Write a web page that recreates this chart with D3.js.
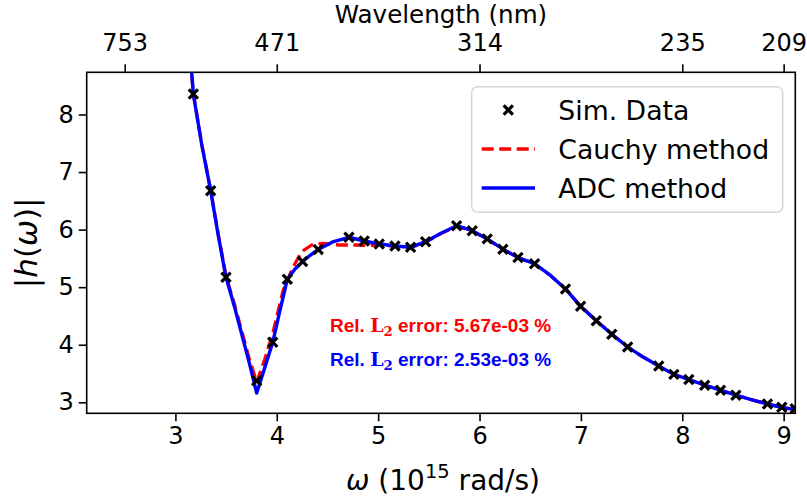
<!DOCTYPE html>
<html>
<head>
<meta charset="utf-8">
<script src="https://cdn.jsdelivr.net/npm/d3@7"></script>
<style>
body { margin: 0; background: #fff; }
svg text { font-family: "DejaVu Sans", sans-serif; }
</style>
</head>
<body>
<svg id="chart" width="807" height="499"></svg>
<script>
// simulated data (crosses)
var simOmega = [3.177, 3.348, 3.499, 3.802, 3.960, 4.104, 4.255, 4.409, 4.712, 4.863, 5.011, 5.166, 5.320, 5.468,
                5.774, 5.928, 6.076, 6.231, 6.379, 6.543, 6.848, 6.997, 7.152, 7.305, 7.461, 7.768, 7.917, 8.065,
                8.221, 8.377, 8.529, 8.840, 8.982, 9.114];
var simValue = [8.356, 6.676, 5.172, 3.375, 4.042, 5.137, 5.446, 5.655, 5.867, 5.802, 5.750, 5.715, 5.693, 5.790,
                6.068, 5.981, 5.839, 5.660, 5.514, 5.408, 4.970, 4.668, 4.418, 4.183, 3.962, 3.631, 3.485, 3.396,
                3.297, 3.210, 3.123, 2.970, 2.913, 2.889];

// ADC method fit
var adcOmega = [3.150, 3.160, 3.177, 3.260, 3.348, 3.420, 3.499, 3.580, 3.650, 3.730, 3.802, 3.880, 3.960, 4.030,
                4.104, 4.180, 4.255, 4.330, 4.409, 4.560, 4.712, 4.863, 5.011, 5.166, 5.320, 5.468, 5.620, 5.774,
                5.928, 6.076, 6.231, 6.379, 6.543, 6.700, 6.848, 6.997, 7.152, 7.305, 7.461, 7.610, 7.768, 7.917,
                8.065, 8.221, 8.377, 8.529, 8.680, 8.840, 8.982, 9.130];
var adcValue = [8.991, 8.733, 8.356, 7.474, 6.676, 5.926, 5.172, 4.677, 4.213, 3.676, 3.160, 3.594, 4.043, 4.584,
                5.137, 5.317, 5.446, 5.554, 5.655, 5.792, 5.867, 5.802, 5.750, 5.715, 5.693, 5.790, 5.936, 6.068,
                5.981, 5.839, 5.660, 5.514, 5.408, 5.204, 4.970, 4.668, 4.418, 4.183, 3.962, 3.790, 3.631, 3.485,
                3.396, 3.297, 3.210, 3.123, 3.047, 2.970, 2.913, 2.871];

// Cauchy method fit
var cauchyOmega = [3.150, 3.160, 3.177, 3.260, 3.348, 3.420, 3.499, 3.580, 3.650, 3.730, 3.802, 3.880, 3.960, 4.064,
                   4.163, 4.246, 4.344, 4.459, 4.607, 4.788, 4.919, 5.011, 5.166, 5.320, 5.468, 5.620, 5.774,
                   5.928, 6.076, 6.231, 6.379, 6.543, 6.700, 6.848, 6.997, 7.152, 7.305, 7.461, 7.610, 7.768, 7.917,
                   8.065, 8.221, 8.377, 8.529, 8.680, 8.840, 8.982, 9.130];
var cauchyValue = [8.991, 8.733, 8.356, 7.484, 6.690, 5.946, 5.193, 4.718, 4.264, 3.748, 3.346, 3.738, 4.192, 4.951,
                   5.356, 5.616, 5.733, 5.762, 5.733, 5.733, 5.721, 5.740, 5.709, 5.689, 5.781, 5.931, 6.060,
                   5.977, 5.833, 5.658, 5.513, 5.405, 5.204, 4.970, 4.668, 4.418, 4.183, 3.962, 3.790, 3.631, 3.485,
                   3.396, 3.297, 3.210, 3.123, 3.047, 2.970, 2.913, 2.871];

var bottomTicks = [3, 4, 5, 6, 7, 8, 9];
var leftTicks = [3, 4, 5, 6, 7, 8];
var topTickOmega = [2.5, 4, 6, 8, 9];
var topTickLabels = ["753", "471", "314", "235", "209"];
var legendLabels = ["Sim. Data", "Cauchy method", "ADC method"];
var errorValues = ["5.67e-03", "2.53e-03"];
var errorColors = ["#ff0000", "#0000ff"];

var svg = d3.select("#chart");
var pLeft = 86.7, pRight = 795.3, pTop = 72.3, pBottom = 413.3;

var x = d3.scaleLinear().domain([2.125, 9.115]).range([pLeft, pRight]);
var y = d3.scaleLinear().domain([2.809, 8.733]).range([pBottom, pTop]);

svg.append("clipPath").attr("id", "clip")
    .append("rect")
    .attr("x", pLeft).attr("y", pTop)
    .attr("width", pRight - pLeft).attr("height", pBottom - pTop);

var plot = svg.append("g").attr("clip-path", "url(#clip)");

var line = d3.line()
    .x(function(d){ return x(d[0]); })
    .y(function(d){ return y(d[1]); });

var cauchyPts = cauchyOmega.map(function(w, i){ return [w, cauchyValue[i]]; });
var adcPts = adcOmega.map(function(w, i){ return [w, adcValue[i]]; });

plot.append("path")
    .attr("d", line(cauchyPts))
    .attr("fill", "none")
    .attr("stroke", "#ff0000")
    .attr("stroke-width", 3.3)
    .attr("stroke-dasharray", "12,5.5");

plot.append("path")
    .attr("d", line(adcPts))
    .attr("fill", "none")
    .attr("stroke", "#0000ff")
    .attr("stroke-width", 3.4)
    .attr("stroke-linejoin", "round");

var crossPath = "M-4.6,-4.6L4.6,4.6M-4.6,4.6L4.6,-4.6";
plot.selectAll("path.sim")
    .data(simOmega)
    .enter().append("path")
    .attr("class", "sim")
    .attr("d", crossPath)
    .attr("transform", function(d, i){ return "translate(" + x(d) + "," + y(simValue[i]) + ")"; })
    .attr("stroke", "#000")
    .attr("stroke-width", 3.2);

// axes
var axisFont = 24;
var xAxis = svg.append("g")
    .attr("transform", "translate(0," + pBottom + ")")
    .call(d3.axisBottom(x).tickValues(bottomTicks).tickFormat(d3.format("d"))
          .tickSize(8).tickSizeOuter(0).tickPadding(5.5));

var yAxis = svg.append("g")
    .attr("transform", "translate(" + pLeft + ",0)")
    .call(d3.axisLeft(y).tickValues(leftTicks).tickFormat(d3.format("d"))
          .tickSize(8).tickSizeOuter(0).tickPadding(5));

var topAxis = svg.append("g")
    .attr("transform", "translate(0," + pTop + ")")
    .call(d3.axisTop(x).tickValues(topTickOmega)
          .tickFormat(function(d, i){ return topTickLabels[i]; })
          .tickSize(8).tickSizeOuter(0).tickPadding(13.6));

[xAxis, yAxis, topAxis].forEach(function(g){
    g.select(".domain").remove();
    g.selectAll(".tick line").attr("stroke", "#000").attr("stroke-width", 1.6);
    g.selectAll(".tick text")
        .attr("fill", "#000")
        .style("font-size", axisFont + "px")
        .style("font-family", "'DejaVu Sans', sans-serif");
});

svg.append("rect")
    .attr("x", pLeft).attr("y", pTop)
    .attr("width", pRight - pLeft).attr("height", pBottom - pTop)
    .attr("fill", "none")
    .attr("stroke", "#000")
    .attr("stroke-width", 1.6);

// axis labels
svg.append("text")
    .attr("x", (pLeft + pRight) / 2).attr("y", 23)
    .attr("text-anchor", "middle")
    .style("font-size", "24.6px")
    .text("Wavelength (nm)");

var xl = svg.append("text")
    .attr("x", (pLeft + pRight) / 2 + 2).attr("y", 490)
    .attr("text-anchor", "middle")
    .style("font-size", "28px");
xl.append("tspan").style("font-style", "italic").text("ω");
xl.append("tspan").text(" (10");
xl.append("tspan").attr("dy", -12).style("font-size", "19.5px").text("15");
xl.append("tspan").attr("dy", 12).text(" rad/s)");

var yl = svg.append("text")
    .attr("transform", "translate(37," + ((pTop + pBottom) / 2) + ") rotate(-90)")
    .attr("text-anchor", "middle")
    .style("font-size", "31px");
yl.append("tspan").text("|");
yl.append("tspan").style("font-style", "italic").text("h");
yl.append("tspan").text("(");
yl.append("tspan").style("font-style", "italic").text("ω");
yl.append("tspan").text(")|");

// error annotations
errorValues.forEach(function(v, i){
    var t = svg.append("text")
        .attr("x", 330).attr("y", 331.7 + i * 34.3)
        .attr("fill", errorColors[i])
        .style("font-family", "'Liberation Sans', Arial, sans-serif")
        .style("font-weight", "bold")
        .style("font-size", "19px");
    t.append("tspan").text("Rel. ");
    t.append("tspan").style("font-family", "'DejaVu Serif', serif").text("L");
    t.append("tspan").attr("dy", 4).style("font-family", "'DejaVu Serif', serif")
        .style("font-size", "13.3px").text("2");
    t.append("tspan").attr("dy", -4).text(" error: " + v + " %");
});

// legend
var legend = svg.append("g");
legend.append("rect")
    .attr("x", 471.7).attr("y", 86.7)
    .attr("width", 311).attr("height", 125.6)
    .attr("rx", 6)
    .attr("fill", "#fff").attr("fill-opacity", 0.8)
    .attr("stroke", "#d6d6d6").attr("stroke-width", 1.5);

var rowY = [110, 149, 188];
legend.append("path")
    .attr("d", crossPath)
    .attr("transform", "translate(508.3," + rowY[0] + ")")
    .attr("stroke", "#000").attr("stroke-width", 3.2);
legend.append("line")
    .attr("x1", 481.7).attr("x2", 535).attr("y1", rowY[1]).attr("y2", rowY[1])
    .attr("stroke", "#ff0000").attr("stroke-width", 3.3).attr("stroke-dasharray", "12,5.5");
legend.append("line")
    .attr("x1", 481.7).attr("x2", 535).attr("y1", rowY[2]).attr("y2", rowY[2])
    .attr("stroke", "#0000ff").attr("stroke-width", 3.4);

legend.selectAll("text.lab")
    .data(legendLabels)
    .enter().append("text")
    .attr("class", "lab")
    .attr("x", 558.3)
    .attr("y", function(d, i){ return rowY[i]; })
    .attr("dy", "0.36em")
    .style("font-size", "26.7px")
    .text(function(d){ return d; });
</script>
</body>
</html>
